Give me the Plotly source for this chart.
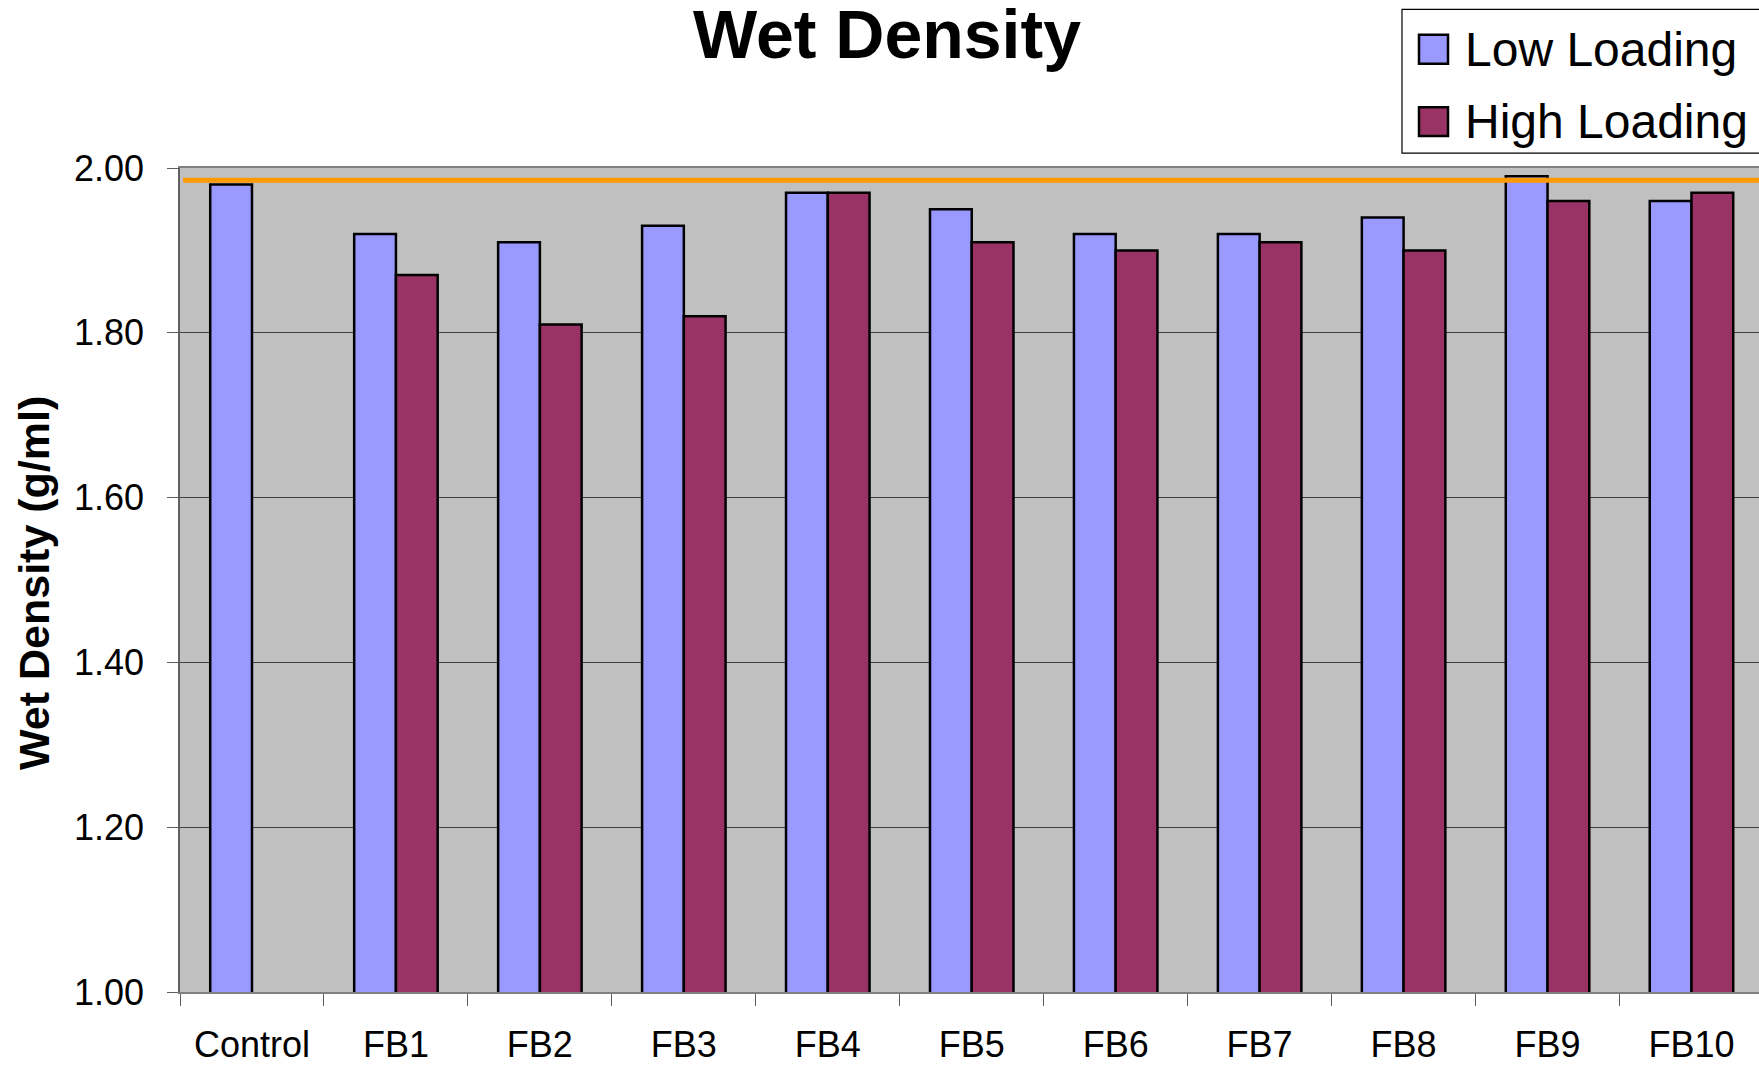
import plotly.graph_objects as go

# Wet density per formulation, two loadings
categories = ["Control", "FB1", "FB2", "FB3", "FB4", "FB5", "FB6", "FB7", "FB8", "FB9", "FB10"]
low_loading = [1.98, 1.92, 1.91, 1.93, 1.97, 1.95, 1.92, 1.92, 1.94, 1.99, 1.96]
high_loading = [None, 1.87, 1.81, 1.82, 1.97, 1.91, 1.90, 1.91, 1.90, 1.96, 1.97]
reference_density = 1.985
y_ticks = [1.00, 1.20, 1.40, 1.60, 1.80, 2.00]

FONT = "Liberation Sans, Arial, sans-serif"
W, H = 1759, 1065
M_L, M_T, M_B, M_R = 180, 168, 71, 0

# pixel -> paper helpers for the layout-only decorations (title, legend)
plot_w = W - M_L - M_R
plot_h = H - M_T - M_B


def px_x(x):
    return (x - M_L) / plot_w


def px_y(y):
    return (H - M_B - y) / plot_h


fig = go.Figure()
fig.add_trace(go.Bar(
    x=categories, y=low_loading, name="Low Loading",
    marker=dict(color="#9999FF", line=dict(color="#000000", width=2.5)),
    showlegend=False,
))
fig.add_trace(go.Bar(
    x=categories, y=high_loading, name="High Loading",
    marker=dict(color="#993366", line=dict(color="#000000", width=2.5)),
    showlegend=False,
))

# reference density line
fig.add_shape(type="line", xref="paper", yref="y", x0=0.002, x1=1,
              y0=reference_density, y1=reference_density,
              line=dict(color="#FF9900", width=5), layer="above")

# legend box with swatches
fig.add_shape(type="rect", xref="paper", yref="paper",
              x0=px_x(1402), x1=px_x(1770), y0=px_y(153), y1=px_y(9),
              line=dict(color="#000000", width=1.2), fillcolor="white")
legend_items = [("Low Loading", "#9999FF", 49), ("High Loading", "#993366", 121.5)]
for label, color, cy in legend_items:
    fig.add_shape(type="rect", xref="paper", yref="paper",
                  x0=px_x(1419), x1=px_x(1448), y0=px_y(cy + 14.5), y1=px_y(cy - 14.5),
                  line=dict(color="#000000", width=2.5), fillcolor=color)
    fig.add_annotation(text=label, xref="paper", yref="paper",
                       x=px_x(1463), y=px_y(cy), xanchor="left", yanchor="middle",
                       showarrow=False, font=dict(family=FONT, size=48, color="#000000"))

# chart title
fig.add_annotation(text="<b>Wet Density</b>", xref="paper", yref="paper",
                   x=px_x(887), y=px_y(34), xanchor="center", yanchor="middle",
                   showarrow=False, font=dict(family=FONT, size=68, color="#000000"))

# y axis title
fig.add_annotation(text="<b>Wet Density (g/ml)</b>", xref="paper", yref="paper",
                   x=px_x(34), y=px_y(584), xanchor="center", yanchor="middle",
                   textangle=-90, showarrow=False,
                   font=dict(family=FONT, size=43, color="#000000"))

fig.update_layout(
    width=W, height=H,
    margin=dict(l=M_L, r=M_R, t=M_T, b=M_B, pad=0),
    paper_bgcolor="white", plot_bgcolor="#C0C0C0",
    barmode="group", bargap=0.42, bargroupgap=0,
    font=dict(family=FONT, size=36, color="#000000"),
)
fig.update_xaxes(
    type="category", range=[-0.5, 10.469],
    tickson="boundaries", ticks="outside", ticklen=12, tickwidth=1.2, tickcolor="#606060",
    showline=True, linecolor="#808080", linewidth=2, mirror=True,
    showgrid=False, tickfont=dict(family=FONT, size=36, color="#000000"),
    ticklabelstandoff=20,
)
fig.update_yaxes(
    range=[1.0, 2.0], tickvals=y_ticks, tickformat=".2f",
    ticks="outside", ticklen=11, tickwidth=1.2, tickcolor="#606060",
    showline=True, linecolor="#606060", linewidth=1.5,
    showgrid=True, gridcolor="#404040", gridwidth=1, zeroline=False,
    tickfont=dict(family=FONT, size=36, color="#000000"),
    ticklabelstandoff=16,
)

fig.write_html("out.html")
